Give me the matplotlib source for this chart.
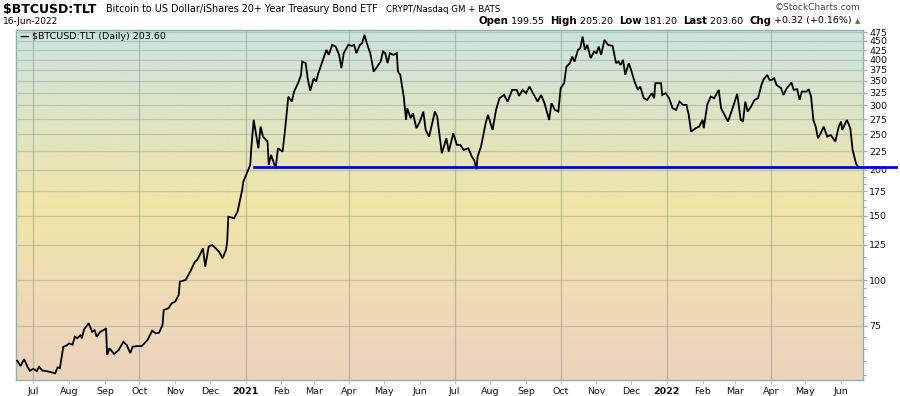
import numpy as np
import pandas as pd
import matplotlib
matplotlib.use('Agg')
import matplotlib.pyplot as plt
import matplotlib.dates as mdates
from matplotlib.colors import LinearSegmentedColormap

# ---------------- data ----------------
start_date = "2020-07-01"
day_offsets = [
    -14, -11, -8, -5, -3, 0, 3, 5, 8, 10,
    15, 19, 21, 23, 26, 29, 31, 34, 36, 38,
    41, 42, 44, 48, 51, 53, 55, 58, 61, 63,
    64, 66, 70, 74, 78, 81, 84, 86, 90, 94,
    99, 103, 106, 109, 112, 113, 117, 120, 123, 126,
    127, 132, 136, 140, 142, 145, 147, 149, 152, 155,
    158, 161, 164, 167, 168, 169, 174, 177, 181, 182,
    185, 188, 189, 191, 195, 197, 199, 203, 204, 206,
    210, 212, 216, 218, 221, 224, 226, 230, 232, 233,
    236, 238, 240, 243, 245, 247, 250, 254, 256, 259,
    262, 265, 267, 269, 273, 276, 278, 280, 283, 285,
    287, 289, 292, 295, 298, 301, 303, 305, 307, 309,
    312, 315, 316, 318, 321, 323, 324, 327, 329, 332,
    335, 338, 340, 343, 346, 348, 350, 354, 358, 360,
    364, 367, 370, 373, 377, 380, 382, 384, 385, 388,
    392, 394, 398, 401, 404, 408, 411, 415, 419, 421,
    424, 427, 430, 433, 437, 440, 443, 447, 449, 452,
    455, 457, 460, 462, 465, 467, 469, 472, 474, 476,
    478, 480, 483, 486, 488, 490, 492, 495, 498, 502,
    505, 507, 509, 511, 513, 516, 518, 521, 524, 526,
    529, 532, 536, 538, 539, 544, 545, 548, 551, 554,
    557, 560, 563, 566, 568, 570, 574, 577, 580, 581,
    584, 587, 590, 594, 596, 599, 602, 606, 610, 613,
    615, 617, 619, 622, 625, 628, 631, 633, 636, 638,
    640, 642, 644, 648, 650, 653, 657, 659, 662, 664,
    666, 670, 672, 674, 676, 678, 680, 683, 685, 688,
    691, 695, 698, 700, 701, 705, 708, 710, 713, 715,
]
ratio_values = [
    60.3, 58.3, 60.9, 58.0, 56.6, 57.3, 56.5, 58.0, 56.6, 56.6,
    56.1, 55.7, 57.8, 57.5, 65.8, 66.4, 67.2, 66.7, 70.1, 69.4,
    70.9, 69.4, 73.4, 76.3, 72.3, 73.1, 70.1, 72.3, 73.1, 73.9,
    62.5, 65.2, 62.9, 64.5, 67.9, 66.5, 63.2, 65.8, 66.1, 66.1,
    68.7, 72.8, 71.6, 71.9, 75.5, 82.9, 83.8, 86.5, 87.4, 91.1,
    99.1, 100.1, 105.5, 112.3, 113.6, 118.4, 122.2, 108.9, 123.5, 124.8,
    122.2, 119.6, 114.8, 120.9, 127.4, 149.1, 147.6, 153.9, 176.4, 185.8,
    195.9, 206.4, 231.6, 273.9, 229.2, 262.6, 246.6, 239.0, 206.4, 219.8,
    202.2, 229.2, 224.4, 254.5, 317.1, 307.3, 327.3, 348.5, 363.5, 395.2,
    391.3, 352.3, 329.3, 356.0, 348.5, 367.4, 391.3, 425.4, 412.3, 439.0,
    434.4, 412.3, 379.1, 416.7, 439.0, 436.2, 439.0, 416.7, 439.0, 443.7,
    467.5, 443.7, 416.7, 371.1, 383.0, 395.2, 420.9, 416.7, 391.3, 416.7,
    412.3, 416.7, 371.1, 363.5, 317.1, 273.9, 294.8, 276.9, 285.7, 260.0,
    271.0, 288.6, 257.2, 246.6, 271.0, 288.6, 279.6, 222.1, 244.1, 224.4,
    251.9, 234.1, 234.1, 226.8, 229.2, 217.4, 213.0, 200.9, 217.4, 231.6,
    268.3, 282.7, 257.2, 291.7, 313.9, 320.5, 307.3, 330.8, 330.8, 318.5,
    330.8, 324.0, 337.7, 324.0, 307.3, 320.5, 304.2, 273.9, 304.2, 291.7,
    288.6, 334.3, 345.0, 383.0, 391.3, 407.9, 395.2, 425.4, 430.0, 462.5,
    425.4, 439.0, 403.8, 420.9, 416.7, 434.4, 412.3, 453.0, 439.0, 436.2,
    391.3, 395.2, 387.1, 399.5, 363.5, 391.3, 375.1, 348.5, 330.8, 337.7,
    313.9, 310.6, 324.0, 313.9, 345.0, 345.0, 320.5, 324.0, 313.9, 294.8,
    291.7, 307.3, 301.0, 301.0, 282.7, 254.5, 260.0, 262.6, 273.9, 260.0,
    301.0, 317.1, 313.9, 330.8, 294.8, 282.7, 271.0, 294.8, 322.6, 273.9,
    271.0, 307.3, 288.6, 297.8, 310.6, 313.9, 341.4, 353.8, 363.5, 352.3,
    352.3, 356.0, 341.4, 334.3, 320.5, 334.3, 346.3, 330.8, 332.2, 310.6,
    327.3, 327.3, 332.2, 317.1, 273.9, 262.6, 244.1, 254.5, 262.6, 246.6,
    249.2, 239.0, 262.6, 271.0, 257.2, 273.9, 260.0, 226.8, 208.0, 203.6,
]
support_level = 204.0
support_start = "2021-01-08"
support_end = "2022-07-19"

y_major = [75, 100, 125, 150, 175, 200, 225, 250, 275, 300, 325, 350,
           375, 400, 425, 450, 475]
y_minor = [55, 60, 65, 70, 80, 85, 90, 95, 108, 116, 133, 141, 158, 166,
           183, 191]
month_starts = pd.date_range("2020-07-01", "2022-06-01", freq="MS")
quarter_lines = ["2020-07-01", "2020-10-01", "2021-01-01", "2021-04-01",
                 "2021-07-01", "2021-10-01", "2022-01-01", "2022-04-01"]

title_main = "$BTCUSD:TLT"
title_desc = "Bitcoin to US Dollar/iShares 20+ Year Treasury Bond ETF"
title_exch = "CRYPT/Nasdaq GM + BATS"
date_text = "16-Jun-2022"
legend_text = "$BTCUSD:TLT (Daily) 203.60"
quote_parts = [("Open", True), (" 199.55  ", False), ("High", True),
               (" 205.20  ", False), ("Low", True), (" 181.20  ", False),
               ("Last", True), (" 203.60  ", False), ("Chg", True),
               (" +0.32 (+0.16%)", False)]

# ---------------- figure ----------------
W, H = 900, 396
fig = plt.figure(figsize=(W / 100, H / 100), dpi=100)
fig.patch.set_facecolor("white")


def fx(x):
    return x / W


def fy(y):
    return 1 - y / H


rect = [fx(16), 16 / H, 847 / W, 350 / H]
bg = fig.add_axes(rect, zorder=0)
grad = np.linspace(0, 1, 400).reshape(-1, 1)
cmap = LinearSegmentedColormap.from_list(
    "bg", [(0.0, "#ecd3bd"), (0.25, "#eedcb4"), (0.5, "#f0e5a8"),
           (0.75, "#dfe5c4"), (1.0, "#cbe5df")])
bg.imshow(grad, extent=[0, 1, 0, 1], cmap=cmap, aspect="auto",
          origin="lower", interpolation="bicubic")
bg.set_axis_off()

ax = fig.add_axes(rect, zorder=1)
ax.patch.set_alpha(0)

dates = pd.Timestamp(start_date) + pd.to_timedelta(day_offsets, unit="D")
ax.set_yscale("log")
ax.set_xlim(pd.Timestamp("2020-06-16"), pd.Timestamp("2022-06-20"))
ax.set_ylim(53.4, 482)

grid_c = (0.62, 0.67, 0.60, 0.55)
for v in y_major:
    ax.axhline(v, color=grid_c, lw=0.9, zorder=1)
for q in quarter_lines:
    ax.axvline(pd.Timestamp(q), color=(0.55, 0.62, 0.55, 0.55), lw=0.9,
               zorder=1)

ax.plot(dates, ratio_values, color="black", lw=1.3, zorder=3,
        solid_joinstyle="miter")
ax.plot([pd.Timestamp(support_start), pd.Timestamp(support_end)],
        [support_level, support_level], color="#0000ff", lw=2, zorder=4,
        clip_on=False)

spine_c = "#8fb0b3"
for s in ax.spines.values():
    s.set_color(spine_c)
    s.set_linewidth(1.0)

ax.yaxis.tick_right()
ax.set_yticks(y_major)
ax.set_yticklabels([str(v) for v in y_major])
ax.set_yticks(y_minor, minor=True)
ax.yaxis.set_minor_formatter(matplotlib.ticker.NullFormatter())
ax.tick_params(axis="y", which="major", length=3, width=0.8, color=spine_c,
               labelsize=6.8, pad=1.5, labelcolor="#111111")
ax.tick_params(axis="y", which="minor", length=2, width=0.8, color=spine_c)

ax.set_xticks(month_starts)
labels = []
for d in month_starts:
    labels.append(str(d.year) if d.month == 1 else d.strftime("%b"))
ax.set_xticklabels(labels)
for t, d in zip(ax.get_xticklabels(), month_starts):
    if d.month == 1:
        t.set_fontweight("bold")
        t.set_fontsize(7.2)
ax.tick_params(axis="x", which="major", length=3, width=0.8,
               color="#c8c8c8", labelsize=6.8, pad=2, labelcolor="#111111")
ax.xaxis.set_minor_locator(matplotlib.ticker.NullLocator())

# ---------------- texts ----------------
fig.text(fx(3), fy(9), title_main, fontsize=9, fontweight="bold",
         va="center", ha="left")
fig.text(fx(106), fy(9.5), title_desc, fontsize=6.9, va="center", ha="left")
fig.text(fx(386), fy(9.5), title_exch, fontsize=6.2, va="center", ha="left")
fig.text(fx(3), fy(21), date_text, fontsize=6.5, va="center", ha="left")
fig.text(fx(861), fy(8), "\u00a9StockCharts.com", fontsize=6.5,
         va="center", ha="right", color="#444444")

# legend entry
fig.text(fx(19), fy(36.5), "\u2014", fontsize=7, fontweight="bold",
         va="center", ha="left")
fig.text(fx(32), fy(36.5), legend_text, fontsize=6.8, va="center",
         ha="left", family="DejaVu Sans")

# quote line, drawn right-to-left
fig.canvas.draw()
renderer = fig.canvas.get_renderer()
xr = 852.0
fig.text(fx(857.5), fy(21), "\u25b2", fontsize=5, color="#2e8b3a",
         va="center", ha="center")
for txt, bold in reversed(quote_parts):
    t = fig.text(fx(xr), fy(21), txt, fontsize=7.3 if bold else 6.8,
                 fontweight="bold" if bold else "normal", va="center",
                 ha="right")
    bb = t.get_window_extent(renderer=renderer)
    xr -= bb.width

fig.savefig("out.png", dpi=100, facecolor="white")
